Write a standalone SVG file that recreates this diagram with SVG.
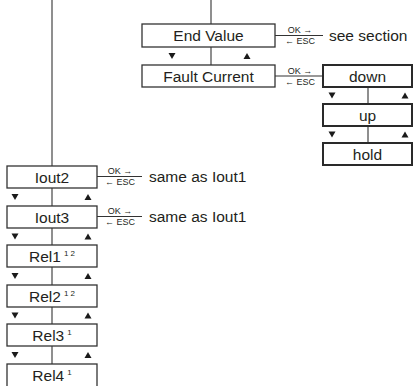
<svg xmlns="http://www.w3.org/2000/svg" xmlns:xlink="http://www.w3.org/1999/xlink" width="414" height="386" viewBox="0 0 414 386">
<style>
.box{fill:#fff;stroke:#333;stroke-width:1.3}
.bold{fill:#fff;stroke:#2a2a2a;stroke-width:2}
.ln{stroke:#333;stroke-width:1.1;fill:none}
.lbl{font-family:"Liberation Sans",Arial,sans-serif;font-size:15.5px;fill:#231f20;text-anchor:middle}
.txt{font-family:"Liberation Sans",Arial,sans-serif;font-size:15.5px;fill:#231f20}
.key{font-family:"Liberation Sans",Arial,sans-serif;font-size:9px;fill:#231f20;text-anchor:middle}
.sup{font-size:8px}
.tri{fill:#1a1a1a}
</style>
<defs>
<polygon id="dn" class="tri" points="-3.5,-3 3.5,-3 0,3"/>
<polygon id="up" class="tri" points="-3.5,3 3.5,3 0,-3"/>
</defs>
<rect width="414" height="386" fill="#fff"/>
<g id="connectors">
<line class="ln" x1="211" y1="0" x2="211" y2="24"/>
<line class="ln" x1="211" y1="47" x2="211" y2="65"/>
<line class="ln" x1="275" y1="35.5" x2="323" y2="35.5"/>
<line class="ln" x1="275" y1="76" x2="323" y2="76"/>
<line class="ln" x1="368" y1="87" x2="368" y2="104"/>
<line class="ln" x1="368" y1="126" x2="368" y2="143"/>
<line class="ln" x1="52" y1="0" x2="52" y2="166"/>
<line class="ln" x1="52" y1="188" x2="52" y2="206"/>
<line class="ln" x1="52" y1="228" x2="52" y2="245"/>
<line class="ln" x1="52" y1="267" x2="52" y2="285"/>
<line class="ln" x1="52" y1="307" x2="52" y2="324"/>
<line class="ln" x1="52" y1="346" x2="52" y2="364"/>
<line class="ln" x1="97" y1="176.5" x2="142" y2="176.5"/>
<line class="ln" x1="97" y1="216.5" x2="142" y2="216.5"/>
<text class="key" x="300" y="33">OK →</text>
<text class="key" x="300" y="44">← ESC</text>
<text class="key" x="300" y="73.5">OK →</text>
<text class="key" x="300" y="84.5">← ESC</text>
<text class="key" x="120" y="174">OK →</text>
<text class="key" x="120" y="185">← ESC</text>
<text class="key" x="120" y="214">OK →</text>
<text class="key" x="120" y="225">← ESC</text>
<use xlink:href="#dn" x="172" y="56"/><use xlink:href="#up" x="247" y="56"/>
<use xlink:href="#dn" x="332" y="95.5"/><use xlink:href="#up" x="405" y="95.5"/>
<use xlink:href="#dn" x="332" y="134.5"/><use xlink:href="#up" x="405" y="134.5"/>
<use xlink:href="#dn" x="15" y="197"/><use xlink:href="#up" x="88" y="197"/>
<use xlink:href="#dn" x="15" y="236.5"/><use xlink:href="#up" x="88" y="236.5"/>
<use xlink:href="#dn" x="15" y="276"/><use xlink:href="#up" x="88" y="276"/>
<use xlink:href="#dn" x="15" y="315.5"/><use xlink:href="#up" x="88" y="315.5"/>
<use xlink:href="#dn" x="15" y="355"/><use xlink:href="#up" x="88" y="355"/>
</g>
<g id="n-endvalue"><rect class="box" x="142" y="24" width="133" height="23"/><text class="lbl" x="208.5" y="41">End Value</text></g>
<g id="n-seesection"><text class="txt" x="329" y="41">see section</text></g>
<g id="n-faultcurrent"><rect class="box" x="142" y="65" width="133" height="22"/><text class="lbl" x="208.5" y="81.5">Fault Current</text></g>
<g id="n-down"><rect class="bold" x="323" y="65" width="89" height="22"/><text class="lbl" x="367.5" y="81.5">down</text></g>
<g id="n-up"><rect class="bold" x="323" y="104" width="89" height="22"/><text class="lbl" x="367.5" y="120.5">up</text></g>
<g id="n-hold"><rect class="bold" x="323" y="143" width="89" height="22"/><text class="lbl" x="367.5" y="159.5">hold</text></g>
<g id="n-iout2"><rect class="box" x="7" y="166" width="90" height="22"/><text class="lbl" x="52" y="182.5">Iout2</text></g>
<g id="n-iout2-same"><text class="txt" x="149" y="182">same as Iout1</text></g>
<g id="n-iout3"><rect class="box" x="7" y="206" width="90" height="22"/><text class="lbl" x="52" y="222.5">Iout3</text></g>
<g id="n-iout3-same"><text class="txt" x="149" y="222">same as Iout1</text></g>
<g id="n-rel1"><rect class="box" x="7" y="245" width="90" height="22"/><text class="lbl" x="52" y="261.5">Rel1<tspan class="sup" dx="3" dy="-6">1 2</tspan></text></g>
<g id="n-rel2"><rect class="box" x="7" y="285" width="90" height="22"/><text class="lbl" x="52" y="301.5">Rel2<tspan class="sup" dx="3" dy="-6">1 2</tspan></text></g>
<g id="n-rel3"><rect class="box" x="7" y="324" width="90" height="22"/><text class="lbl" x="52" y="340.5">Rel3<tspan class="sup" dx="3" dy="-6">1</tspan></text></g>
<g id="n-rel4"><rect class="box" x="7" y="364" width="90" height="26"/><text class="lbl" x="52" y="380.5">Rel4<tspan class="sup" dx="3" dy="-6">1</tspan></text></g>
</svg>
